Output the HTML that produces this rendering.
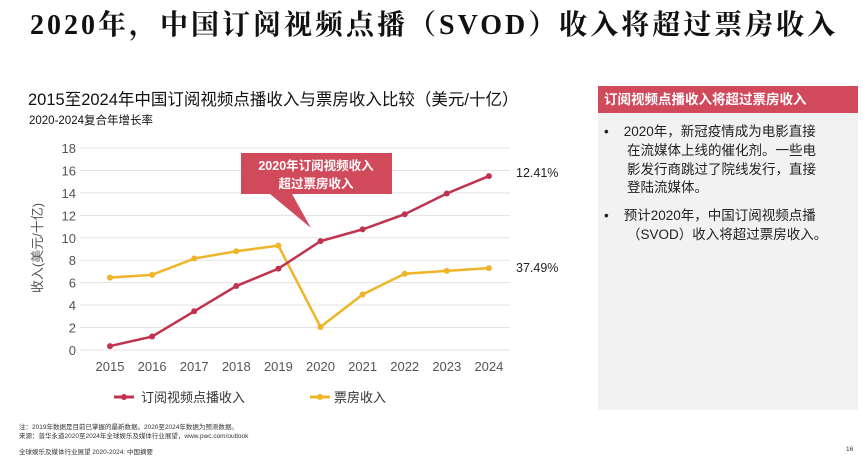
<!DOCTYPE html>
<html><head><meta charset="utf-8"><style>
body{margin:0;width:866px;height:456px;background:#fff;position:relative;overflow:hidden;font-family:"Liberation Sans","Noto Sans CJK SC",sans-serif;color:#222}
.a{position:absolute;white-space:nowrap}
</style></head><body>
<div class="a" style="left:30px;top:3px;font-family:'Liberation Serif','Noto Serif CJK SC',serif;font-weight:bold;font-size:28px;letter-spacing:3px;color:#111">2020年，中国订阅视频点播（SVOD）收入将超过票房收入</div>
<div class="a" style="left:28px;top:86px;font-size:16.5px;color:#111">2015至2024年中国订阅视频点播收入与票房收入比较（美元/十亿）</div>
<div class="a" style="left:29px;top:112px;font-size:11.5px;color:#111">2020-2024复合年增长率</div>
<div class="a" style="left:598px;top:86px;width:260px;height:324px;background:#f2f2f2"></div>
<div class="a" style="left:598px;top:86px;width:260px;height:27px;background:#d04a5c;color:#fff;font-weight:bold;font-size:13.5px;line-height:27px;padding-left:6px;box-sizing:border-box">订阅视频点播收入将超过票房收入</div>
<div class="a" style="left:604px;top:123px;font-size:13.5px;line-height:18.8px;color:#222">
<div>•&nbsp;&nbsp;&nbsp; 2020年，新冠疫情成为电影直接</div>
<div style="padding-left:23px">在流媒体上线的催化剂。一些电</div>
<div style="padding-left:23px">影发行商跳过了院线发行，直接</div>
<div style="padding-left:23px">登陆流媒体。</div>
<div style="margin-top:9px">•&nbsp;&nbsp;&nbsp; 预计2020年，中国订阅视频点播</div>
<div style="padding-left:23px">（SVOD）收入将超过票房收入。</div>
</div>
<svg class="a" style="left:0;top:0" width="866" height="456">
<g id="grid"></g><g id="series"></g>
<text x="42" y="248" transform="rotate(-90 42 248)" text-anchor="middle" font-size="13" fill="#555">收入(美元/十亿)</text>
<polygon points="241,153 392,153 392,194 292,194 311,228 270,194 241,194" fill="#d04a5c"/>
<text x="316" y="170" text-anchor="middle" font-size="12.5" font-weight="bold" fill="#fff">2020年订阅视频收入</text>
<text x="316" y="188" text-anchor="middle" font-size="12.5" font-weight="bold" fill="#fff">超过票房收入</text>
<text x="516" y="177" font-size="12.5" fill="#222">12.41%</text>
<text x="516" y="272" font-size="12.5" fill="#222">37.49%</text>
<g><line x1="114" y1="397" x2="134" y2="397" stroke="#c0334f" stroke-width="3"/><circle cx="124" cy="397" r="3" fill="#c0334f"/><text x="141" y="402" font-size="13" fill="#333">订阅视频点播收入</text></g>
<g><line x1="310" y1="397" x2="330" y2="397" stroke="#f0b429" stroke-width="3"/><circle cx="320" cy="397" r="3" fill="#f0b429"/><text x="334" y="402" font-size="13" fill="#333">票房收入</text></g>
</svg>
<div class="a" style="left:19px;top:423px;font-size:6.5px;line-height:9px;color:#333">注：2019年数据是目前已掌握的最新数据。2020至2024年数据为预测数据。<br>来源：普华永道2020至2024年全球娱乐及媒体行业展望，www.pwc.com/outlook</div>
<div class="a" style="left:19px;top:446px;font-size:6.5px;color:#333">全球娱乐及媒体行业展望 2020-2024: 中国摘要</div>
<div class="a" style="left:846px;top:446px;font-size:6.5px;color:#333">16</div>
<script>
const years=["2015","2016","2017","2018","2019","2020","2021","2022","2023","2024"];
const svod=[0.35,1.2,3.45,5.7,7.25,9.7,10.75,12.1,13.95,15.5];
const boxOffice=[6.45,6.7,8.15,8.8,9.3,2.05,4.95,6.8,7.05,7.3];
const yTicks=[0,2,4,6,8,10,12,14,16,18];
const NS="http://www.w3.org/2000/svg";
const X=i=>110+i*42.1, Y=v=>350-v*11.22;
const grid=document.getElementById('grid'), ser=document.getElementById('series');
function mk(tag,at,p){const e=document.createElementNS(NS,tag);for(const k in at)e.setAttribute(k,at[k]);p.appendChild(e);return e;}
yTicks.forEach(t=>{
 const l=mk('line',{x1:80,x2:510,y1:Y(t),y2:Y(t),stroke:'#e3e3e3','stroke-width':1},grid);
 
 
 const tx=mk('text',{x:76,y:Y(t)+5,'text-anchor':'end','font-size':13,fill:'#555'},grid);tx.textContent=t;
 
 
});
years.forEach((y,i)=>{const tx=mk('text',{x:X(i),y:371,'text-anchor':'middle','font-size':13,fill:'#555'},grid);tx.textContent=y;
 
 });
function series(d,c,n){
 const pl=mk('polyline',{points:d.map((v,i)=>X(i)+','+Y(v)).join(' '),fill:'none',stroke:c,'stroke-width':2.5},ser);
 
 
 d.forEach((v,i)=>{const p=mk('circle',{cx:X(i),cy:Y(v),r:3,fill:c},ser);
 
 });
}
series(boxOffice,'#f0b429','boxoffice');
series(svod,'#c0334f','svod');
</script>
</body></html>
